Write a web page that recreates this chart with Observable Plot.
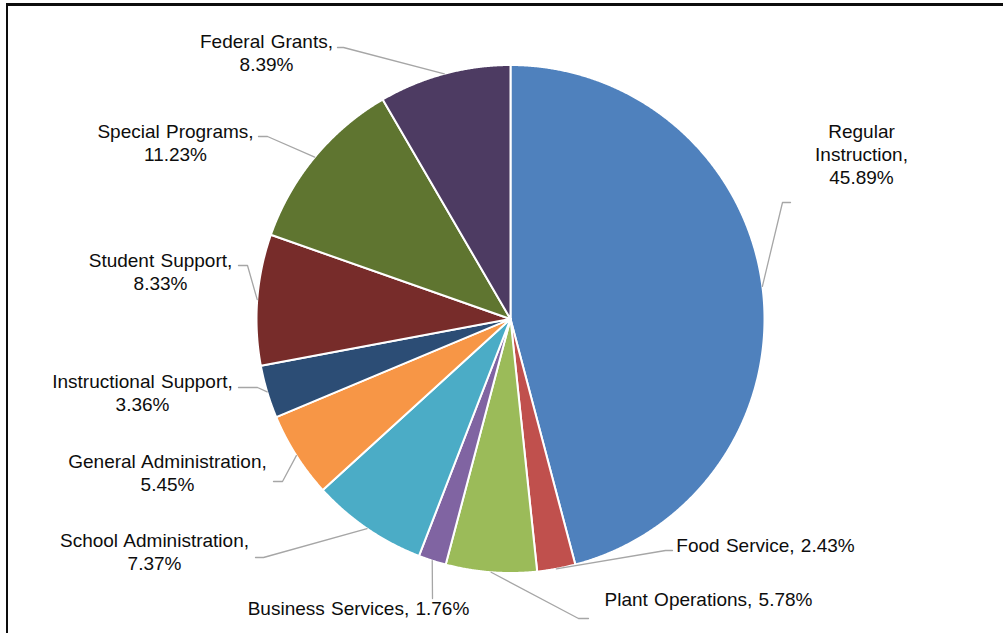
<!DOCTYPE html>
<html>
<head>
<meta charset="utf-8">
<script src="https://cdn.jsdelivr.net/npm/d3@7"></script>
<script src="https://cdn.jsdelivr.net/npm/@observablehq/plot@0.6"></script>
<style>
  body { margin: 0; background: #fff; }
  #wrap { position: relative; width: 1003px; height: 633px; overflow: hidden; background: #fff; }
  #chart { position: absolute; left: 0; top: 0; }
  #border {
    position: absolute; left: 6px; top: 3px; width: 1100px; height: 627px;
    border-top: 3px solid #0d0d0d; border-left: 2.5px solid #0d0d0d; border-bottom: 1.5px solid #a6a6a6;
    pointer-events: none;
  }
</style>
</head>
<body>
<div id="wrap"><div id="chart"></div><div id="border"></div></div>
<script>
// ---- data (clockwise from 12 o'clock) ----
const categories = [
  "Regular Instruction", "Food Service", "Plant Operations", "Business Services",
  "School Administration", "General Administration", "Instructional Support",
  "Student Support", "Special Programs", "Federal Grants"
];
const shares = [45.89, 2.43, 5.78, 1.76, 7.37, 5.45, 3.36, 8.33, 11.23, 8.39];
const colors = [
  "#4F81BD", "#C0504D", "#9BBB59", "#8064A2", "#4BACC6",
  "#F79646", "#2C4D75", "#772C2A", "#5F7530", "#4D3B62"
];
// label wrapping: 0 = one line, 1 = name / value, 2 = every word on its own line
const labelWrap = [2, 0, 0, 0, 1, 1, 1, 1, 1, 1];

// ---- layout ----
const W = 1003, H = 633;
const cx = 510, cy = 318.5, R = 254;
// label anchor (text centre x, last baseline y) and leader elbow / end points
const labelLayout = [
  {tx: 861, ty: 183, ex: 782, ey: 202, fx: 790, fy: 202},
  {tx: 765, ty: 551, ex: 665, ey: 550, fx: 672, fy: 550},
  {tx: 708, ty: 605, ex: 578, ey: 618, fx: 588, fy: 618},
  {tx: 358, ty: 614, ex: 432, ey: 598, fx: 432, fy: 598},
  {tx: 154, ty: 569, ex: 263, ey: 557, fx: 255, fy: 557},
  {tx: 167, ty: 490, ex: 282, ey: 481, fx: 273, fy: 481},
  {tx: 142, ty: 410, ex: 257, ey: 387, fx: 238, fy: 387},
  {tx: 160, ty: 289, ex: 247, ey: 265, fx: 238, fy: 265},
  {tx: 175, ty: 160, ex: 267, ey: 136, fx: 258, fy: 136},
  {tx: 266, ty:  70, ex: 343, ey:  47, fx: 337, fy:  47}
];

const rows = categories.map((name, i) => ({name, value: shares[i], i}));
const arcs = d3.pie().sort(null).value(d => d.value)(rows);

const px = a => cx + R * Math.sin(a);
const py = a => cy - R * Math.cos(a);

// slice polygons
const slicePts = [];
for (const a of arcs) {
  const name = a.data.name;
  slicePts.push({name, x: cx, y: cy});
  const n = Math.max(2, Math.ceil((a.endAngle - a.startAngle) / 0.004));
  for (let k = 0; k <= n; k++) {
    const t = a.startAngle + (a.endAngle - a.startAngle) * k / n;
    slicePts.push({name, x: px(t), y: py(t)});
  }
}

// leader lines
const leaderPts = [];
arcs.forEach((a, i) => {
  const m = (a.startAngle + a.endAngle) / 2;
  const L = labelLayout[i];
  const name = a.data.name;
  leaderPts.push({name, x: px(m), y: py(m)});
  leaderPts.push({name, x: L.ex, y: L.ey});
  leaderPts.push({name, x: L.fx, y: L.fy});
});

// label texts
const labels = rows.map((d, i) => {
  const pct = d.value.toFixed(2) + "%";
  let text;
  if (labelWrap[i] === 0) text = `${d.name}, ${pct}`;
  else if (labelWrap[i] === 1) text = `${d.name},\n${pct}`;
  else text = d.name.split(" ").join("\n") + ",\n" + pct;
  return {text, x: labelLayout[i].tx, y: labelLayout[i].ty};
});

const chart = Plot.plot({
  width: W, height: H,
  margin: 0,
  x: {domain: [0, W], range: [0, W], axis: null},
  y: {domain: [0, H], range: [0, H], axis: null},
  color: {domain: categories, range: colors, type: "ordinal"},
  style: {fontFamily: "'Liberation Sans', Arial, sans-serif", background: "transparent", wordSpacing: "1px"},
  marks: [
    Plot.line(slicePts, {x: "x", y: "y", z: "name", fill: "name", stroke: "#fff",
      strokeWidth: 2, strokeLinejoin: "round", curve: "linear-closed"}),
    Plot.line(leaderPts, {x: "x", y: "y", z: "name", stroke: "#a6a6a6", strokeWidth: 1.3}),
    Plot.text(labels, {x: "x", y: "y", text: "text", fontSize: 19, lineAnchor: "bottom",
      lineHeight: 23 / 19, textAnchor: "middle", fill: "#0d0d0d"})
  ]
});
document.getElementById("chart").appendChild(chart);
</script>
</body>
</html>
